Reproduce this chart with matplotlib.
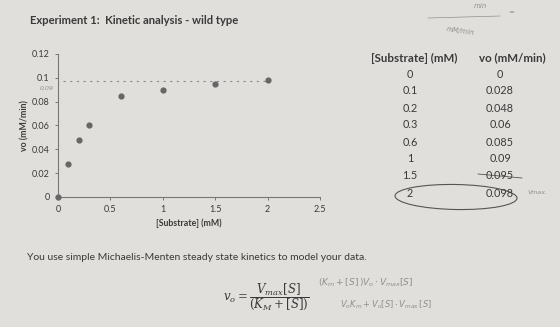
import matplotlib
matplotlib.use("Agg")
import matplotlib.pyplot as plt
from matplotlib.patches import Ellipse

substrate = [0, 0.1, 0.2, 0.3, 0.6, 1, 1.5, 2]
vo = [0, 0.028, 0.048, 0.06, 0.085, 0.09, 0.095, 0.098]
substrate_labels = ["0", "0.1", "0.2", "0.3", "0.6", "1", "1.5", "2"]
vo_labels = ["0", "0.028", "0.048", "0.06", "0.085", "0.09", "0.095", "0.098"]
x_ticks = [0, 0.5, 1, 1.5, 2, 2.5]
x_tick_labels = ["0", "0.5", "1", "1.5", "2", "2.5"]
y_ticks = [0, 0.02, 0.04, 0.06, 0.08, 0.1, 0.12]
y_tick_labels = ["0", "0.02", "0.04", "0.06", "0.08", "0.1", "0.12"]
vmax_guess = 0.097

paper = "#e1dfdb"
ink = "#3a3a3a"
pencil = "#8f8f8f"
font = ["Lato", "DejaVu Sans"]

fig = plt.figure(figsize=(5.6, 3.27), dpi=100)
fig.patch.set_facecolor(paper)

ax = fig.add_axes([0.1036, 0.3976, 0.4679, 0.4374])
ax.set_facecolor(paper)
ax.scatter(substrate, vo, s=12, color="#666666", zorder=3, clip_on=False)
ax.plot([0.05, 2.0], [vmax_guess, vmax_guess], ls=(0, (2, 4)), color="#8a8a8a",
        lw=0.8)
ax.set_xlim(0, 2.5)
ax.set_ylim(0, 0.12)
ax.set_xticks(x_ticks)
ax.set_xticklabels(x_tick_labels)
ax.set_yticks(y_ticks)
ax.set_yticklabels(y_tick_labels)
for s in ("top", "right"):
    ax.spines[s].set_visible(False)
for s in ("left", "bottom"):
    ax.spines[s].set_color("#777777")
    ax.spines[s].set_linewidth(0.8)
ax.tick_params(axis="both", labelsize=6.5, colors="#777777", labelcolor=ink,
               length=2.5, width=0.7)
for lab in ax.get_xticklabels() + ax.get_yticklabels():
    lab.set_family(font)
ax.set_xlabel("[Substrate] (mM)", fontsize=6.3, fontweight="bold", color=ink,
              family=font, labelpad=3)
ax.set_ylabel("vo (mM/min)", fontsize=6.3, fontweight="bold", color=ink,
              family=font, labelpad=2)
ax.text(-0.04, 0.091, "0.09", fontsize=4.5, color=pencil, ha="right",
        va="center", style="italic", transform=ax.transData, clip_on=False)

fig.text(30 / 560, 1 - 20 / 327, "Experiment 1:  Kinetic analysis - wild type",
         fontsize=8.1, fontweight="bold", color=ink, family=font, va="center")

# data table
col1, col2 = 410 / 560, 500 / 560
fig.text(414 / 560, 1 - 58 / 327, "[Substrate] (mM)", fontsize=8.3,
         fontweight="bold", color=ink, family=font, ha="center", va="center")
fig.text(512 / 560, 1 - 58 / 327, "vo (mM/min)", fontsize=8.3,
         fontweight="bold", color=ink, family=font, ha="center", va="center")
for i, (a, b) in enumerate(zip(substrate_labels, vo_labels)):
    yy = 1 - (74 + i * 17) / 327
    fig.text(col1, yy, a, fontsize=7.8, color=ink, family=font, ha="center",
             va="center")
    fig.text(col2, yy, b, fontsize=7.8, color=ink, family=font, ha="center",
             va="center")
# pencil marks around the table
fig.add_artist(Ellipse((456 / 560, 1 - 197 / 327), 122 / 560, 25 / 327,
                       fill=False, ec="#555555", lw=0.8, angle=-2))
fig.add_artist(plt.Line2D([478 / 560, 522 / 560], [1 - 174 / 327, 1 - 178 / 327],
                          color="#555555", lw=0.6))
fig.text(528 / 560, 1 - 192 / 327, "Vmax.", fontsize=4.5, color=pencil,
         style="italic", va="center")
fig.text(480 / 560, 1 - 8 / 327, "min", fontsize=5, color=pencil,
         style="italic", ha="center")
fig.add_artist(plt.Line2D([428 / 560, 500 / 560], [1 - 18 / 327, 1 - 16 / 327],
                          color=pencil, lw=0.5))
fig.text(508 / 560, 1 - 12 / 327, "=", fontsize=5, color=pencil, va="center")
fig.text(460 / 560, 1 - 35 / 327, "mM/min", fontsize=5, color=pencil,
         style="italic", ha="center", rotation=-8)

fig.text(27 / 560, 1 - 258 / 327,
         "You use simple Michaelis-Menten steady state kinetics to model your data.",
         fontsize=7.5, color=ink, family=font, va="center")
fig.text(266 / 560, 1 - 297 / 327,
         r"$v_o = \dfrac{V_{max}[S]}{(K_M + [S])}$",
         fontsize=8.5, color=ink, ha="center", va="center",
         math_fontfamily="dejavuserif")
fig.text(318 / 560, 1 - 283 / 327, r"$(K_m + [S]\,)V_o \cdot V_{max}[S]$",
         fontsize=6.5, color=pencil, va="center", math_fontfamily="dejavusans")
fig.text(340 / 560, 1 - 305 / 327, r"$V_oK_m + V_o[S] \cdot V_{max}\,[S]$",
         fontsize=6, color=pencil, va="center", math_fontfamily="dejavusans")

fig.savefig("out.png", dpi=100, facecolor=paper)
